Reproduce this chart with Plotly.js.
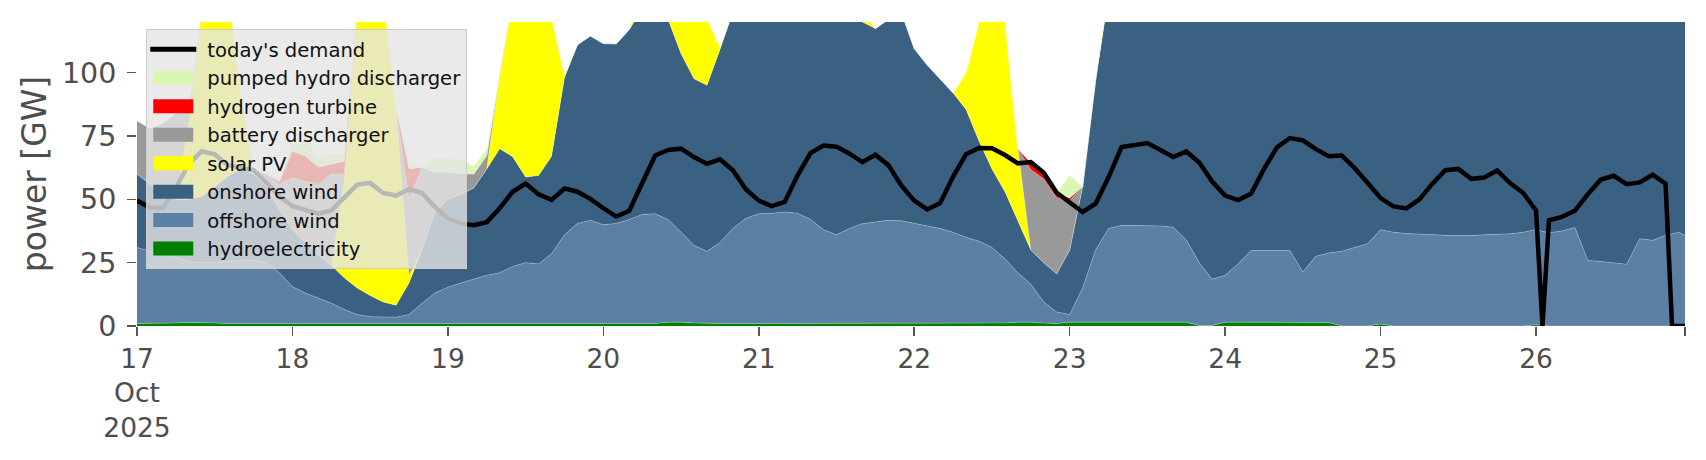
<!DOCTYPE html>
<html><head><meta charset="utf-8">
<script src="https://cdn.plot.ly/plotly-3.0.1.min.js"></script>
<style>html,body{margin:0;padding:0;background:#fff;} #chart{width:1706px;height:460px;}</style>
</head><body><div id="chart"></div>
<script>
// time grid: every 2 hours from 17 Oct 2025 00:00, last point 26 Oct 23:00
const stepHours = 2;
const lastHour = 239;

// GW, one row per day (00,02,...,22h); final value = 26 Oct 23:00
const hydro = [
1,1,1,1.2,1.4,1.4,1.2,1,1,1,1,1,
1,0.9,0.8,0.8,0.8,0.8,0.8,0.8,0.8,0.8,0.8,0.8,
0.8,0.8,0.8,0.8,0.8,0.8,0.8,0.8,0.8,0.8,0.8,0.8,
0.8,0.8,0.8,0.8,1,1.5,1.5,1.2,1,1,1,1,
1,1,1,1,1,1,1,1,1,1,1,1,
1,1,1,1,1,1,1,1.2,1.5,1.5,1.2,1,
1.5,1.5,1.5,1.5,1.5,1.5,1.5,1.5,1.5,1.5,0.2,0.2,
1.5,1.5,1.5,1.5,1.5,1.5,1.5,1.5,1.4,0,0,0,
0.8,0,0,0,0,0,0,0,0,0,0,0,
0.5,0,0,0,0,0,0,0,0,0,0,0,0];

const offshoreWind = [
30,28.5,27,25.8,24.1,23.6,23.8,24.5,25,25,24,20,
14.5,12.1,10.2,8.2,5.7,3.7,2.9,2.7,2.7,3.7,8.2,12.2,
14.5,16.2,17.8,19.2,20.2,22.7,24.2,23.7,27.7,35.2,39.7,40.9,
39.2,39.7,41.2,43.2,43.3,40.5,35.5,30.6,28.5,32,37.5,41.5,
43.3,43.5,44,43.5,41,37,35,37.5,39.4,40,40.7,40.5,
39.4,38.5,37.5,36,34,32.5,30,25.3,19.5,15,8.3,4.5,
3,13.5,28.5,37,38.2,38.2,38.2,38,37.5,32.5,24.8,18.3,
18.5,23,28.3,28.3,28.3,28.3,19.8,26,27.4,29.5,31,32.5,
37.2,37,36.5,36.2,36,35.8,35.7,35.7,36,36.2,36.4,37,
37.5,36.8,37.5,38.9,25.9,25.5,25,24.4,34.4,33.8,35.7,37,35.7];

const onshoreWind = [
29,26.5,24,23,24.5,26,30,33.5,36,34,30,25,
22.5,20,17,15,12.5,10.5,8.3,6,4.7,12.5,21,32,
34.7,35,35.9,42,49,43.3,33.8,34.9,38.5,62,70.5,72.8,
71.5,70.9,75,81,85.7,79,70.5,65.8,65.5,76,85.5,87.5,
87.7,90.5,95,95.5,96,97,94,86.5,79.6,76.4,79.3,82.5,
69.1,63.5,59.1,55,50.5,39.5,31,26.5,20.5,13.5,15.5,15.1,
25.5,40,67,91.5,100.3,105.3,105.3,100.5,101,106,115,121.5,
125,128,130,128,125,122,125,120,118,120,122,120,
118,115,112,110,108,106,105,104,103,103,104,105,
106,108,110,110,112,112,110,108,106,104,102,100,100];

const solarPV = [
0,0,0,0,30,74,85,76,30,0,0,0,
0,0,0,0,38,110,125,122,78,3,0,0,
0,0,0,0,29,63,76,70.6,55,1,0,0,
0,0,0,5,15,25,33,35,26,1,0,0,
0,0,0,4,14,22,26,22,5,0,0,0,
0,0,0,0,14.5,47,68,68,28.5,0,0,0,
0,0,0,3,18,28,32,28,14,0,0,0,
0,0,0,3,16,26,30,26,12,0,0,0,
0,0,0,3,15,25,28,25,12,0,0,0,
0,0,0,3,14,24,27,23,10,0,0,0,0];

const batteryDischarger = [
21,22,28,34,5,0,0,0,0,2,5,10,
20.5,24,28,36,3,0,0,0,0,30,32.7,15.7,
10.7,8,5.5,5.3,0,0,0,0,0,0,0,0,
0,0,0,0,0,0,0,0,0,0,0,0,
0,0,0,0,0,0,0,0,0,0,0,0,
0,0,0,0,0,0,0,0,0,31.7,33,30,
19.5,0,0,0,0,0,0,0,0,0,0,0,
0,0,0,0,0,0,0,0,0,0,0,0,
0,0,0,0,0,0,0,0,0,0,0,0,
0,0,0,0,0,0,0,0,0,0,0,0,0];

const hydrogenTurbine = [
0,0,0,0,0,0,0,0,0,0,0,1,
10.5,10,6.7,4,5,0,0,0,0,12,0,0,
0,0,0,0,0,0,0,0,0,0,0,0,
0,0,0,0,0,0,0,0,0,0,0,0,
0,0,0,0,0,0,0,0,0,0,0,0,
0,0,0,0,0,0,0,0,0,2.5,2.5,1.6,
1,0,0,0,0,0,0,0,0,0,0,0,
0,0,0,0,0,0,0,0,0,0,0,0,
0,0,0,0,0,0,0,0,0,0,0,0,
0,0,0,0,0,0,0,0,0,0,0,0,0];

const pumpedHydro = [
0,0,0,0,0,0,0,0,0,0,0,0,
3,7,3.3,4,3,0,0,0,0,2,0,6,
5.3,6,3,2.7,0,0,0,0,0,0,0,0,
0,0,0,0,0,0,0,0,0,0,0,0,
0,0,0,0,0,0,0,0,0,0,0,0,
0,0,0,0,0,0,0,0,0,0,0,0,
9,0,0,0,0,0,0,0,0,0,0,0,
0,0,0,0,0,0,0,0,0,0,0,0,
0,0,0,0,0,0,0,0,0,0,0,0,
0,0,0,0,0,0,0,0,0,0,0,0,0];

const demand = [
49.5,46.8,46.5,54.5,64,69,67.8,63.6,62.4,61.5,56.5,51.2,
47.3,45.7,44.3,45.6,50.6,55.8,56.5,52.5,51.5,54,52.5,47,
42.5,40.5,39.8,41,46.5,53,56.2,52,49.8,54.3,53,50.2,
46.5,43.2,45.5,56,67.3,69.5,70,66.7,64,65.8,61.5,54,
49.5,47.3,49,59.5,68.3,71.2,70.8,68,64.7,67.6,63.5,55.5,
49.5,46,48.5,59,67.8,70.3,70.2,67.5,64.2,64.7,60.5,52.6,
49,45,48.3,58.7,70.6,71.3,72.2,69.5,66.7,68.9,64.5,57,
51.5,49.7,52.2,62,70.5,74.2,73.3,69.8,67,67.3,62.3,56.5,
50.5,47.2,46.4,50,56.2,61.5,62,58.1,58.6,61.4,56.4,52.6,
45.6,41.7,43.1,45.5,52,57.8,59.3,56,56.7,59.7,56.2,0,0];
// extra hourly demand readings (hours after 17 Oct 00:00)
const demandExtraHours = [217, 237];
const demandExtraValues = [0, 0];

const dayTickDays = [17,18,19,20,21,22,23,24,25,26];
const dayTickLabels = ['17<br>Oct<br>2025','18','19','20','21','22','23','24','25','26'];

function stamp(h){
  const day = 17 + Math.floor(h/24);
  const hr = h % 24;
  return '2025-10-' + day + ' ' + String(hr).padStart(2,'0') + ':00';
}
const gridHours = [];
for (let h = 0; h < lastHour; h += stepHours) gridHours.push(h);
gridHours.push(lastHour);
const xs = gridHours.map(stamp);

const dPairs = gridHours.map((h,i)=>[h, demand[i]]);
demandExtraHours.forEach((h,i)=>dPairs.push([h, demandExtraValues[i]]));
dPairs.sort((a,b)=>a[0]-b[0]);

const edge = {width:0.7, color:'rgba(255,255,255,0.35)'};
function area(name, y, color){
  return {type:'scatter', mode:'lines', name:name, x:xs, y:y, stackgroup:'supply',
          fillcolor:color, line:Object.assign({}, edge), hoverinfo:'skip'};
}
const traces = [
  area('hydroelectricity', hydro, '#008000'),
  area('offshore wind', offshoreWind, '#5b80a3'),
  area('onshore wind', onshoreWind, '#3b6182'),
  area('solar PV', solarPV, '#ffff00'),
  area('battery discharger', batteryDischarger, '#999999'),
  area('hydrogen turbine', hydrogenTurbine, '#ff0000'),
  area('pumped hydro discharger', pumpedHydro, '#d9f7b0'),
  {type:'scatter', mode:'lines', name:"today's demand",
   x:dPairs.map(p=>stamp(p[0])), y:dPairs.map(p=>p[1]),
   line:{color:'#000000', width:4.5}, hoverinfo:'skip'}
];

const tickvals = dayTickDays.map(d=>'2025-10-' + d + ' 00:00').concat([stamp(lastHour)]);
const ticktext = dayTickLabels.concat(['']);

const layout = {
  width:1706, height:460,
  margin:{l:137, r:21, t:22, b:134, pad:0},
  paper_bgcolor:'#ffffff', plot_bgcolor:'#ffffff',
  font:{family:'DejaVu Sans, sans-serif', color:'#4d4d4d'},
  showlegend:true,
  legend:{x:0.006, y:0.977, xanchor:'left', yanchor:'top',
          bgcolor:'rgba(229,229,229,0.8)', bordercolor:'#cccccc', borderwidth:1,
          font:{size:19.6, color:'#111111'}, traceorder:'reversed', itemwidth:50},
  xaxis:{type:'date', range:[stamp(0), stamp(lastHour)], tickmode:'array',
         tickvals:tickvals, ticktext:ticktext, ticks:'outside', ticklen:9, tickwidth:1.6,
         tickcolor:'#555555', tickfont:{size:26.5, color:'#4d4d4d'}, ticklabelstandoff:0,
         showgrid:false, zeroline:false, showline:false},
  yaxis:{range:[0,120], tickmode:'array', tickvals:[0,25,50,75,100], ticks:'outside',
         ticklen:9, tickwidth:1.6, tickcolor:'#555555', tickfont:{size:28.5, color:'#4d4d4d'},
         ticklabelstandoff:5,
         title:{text:'power [GW]', font:{size:33, color:'#4d4d4d'}, standoff:5},
         showgrid:false, zeroline:false, showline:false},
  hovermode:false
};
Plotly.newPlot('chart', traces, layout, {displayModeBar:false, staticPlot:true}).then(function(gd){
  // legend symbols: wide patches for areas, thick line for demand
  gd.querySelectorAll('.legend .traces').forEach(function(tr){
    const txt = tr.querySelector('.legendtext');
    const isLine = txt && txt.textContent === "today's demand";
    const fill = tr.querySelector('.js-fill');
    const line = tr.querySelector('.js-line');
    if (isLine) {
      if (line) { line.setAttribute('d','M3,0h46'); line.style.strokeWidth = '5px'; }
    } else {
      if (fill) fill.setAttribute('d','M6,-7h40v14h-40z');
      if (line) line.style.display = 'none';
    }
  });
});
</script></body></html>
